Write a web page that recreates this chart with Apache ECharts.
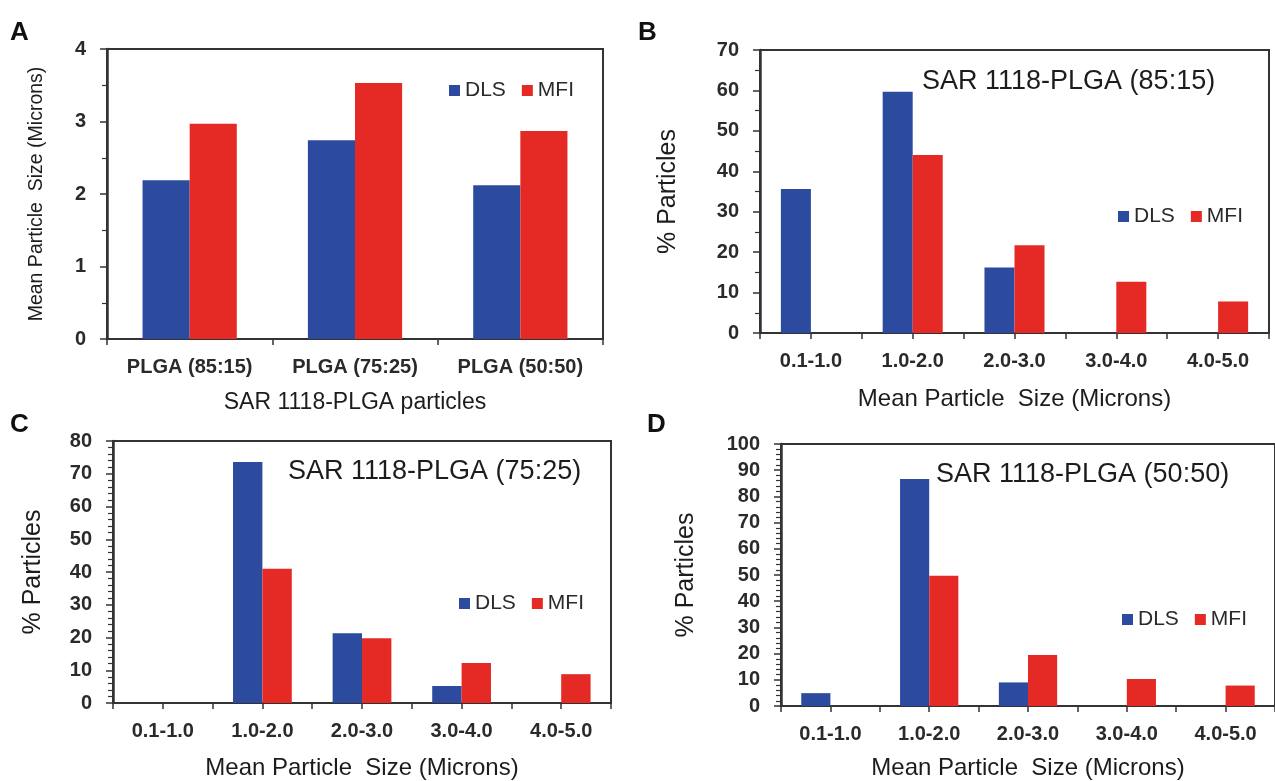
<!DOCTYPE html>
<html>
<head>
<meta charset="utf-8">
<script src="https://cdn.jsdelivr.net/npm/echarts@6/dist/echarts.min.js"></script>
<style>
  html, body { margin: 0; padding: 0; background: #fff; }
  #chart { width: 1275px; height: 781px; }
</style>
</head>
<body>
<div id="chart"></div>
<script>
// datos
const groupsA = ['PLGA (85:15)', 'PLGA (75:25)', 'PLGA (50:50)'];
const dlsA = [2.19, 2.74, 2.12];
const mfiA = [2.97, 3.53, 2.87];

const sizeBins = ['0.1-1.0', '1.0-2.0', '2.0-3.0', '3.0-4.0', '4.0-5.0'];
const dlsB = [35.6, 59.7, 16.2, 0, 0];
const mfiB = [0, 44.0, 21.7, 12.7, 7.8];
const dlsC = [0, 73.6, 21.3, 5.2, 0];
const mfiC = [0, 41.0, 19.8, 12.2, 8.8];
const dlsD = [4.9, 86.6, 9.0, 0, 0];
const mfiD = [0, 49.7, 19.5, 10.3, 7.8];

const panelTitles = ['SAR 1118-PLGA (85:15)', 'SAR 1118-PLGA (75:25)', 'SAR 1118-PLGA (50:50)'];
const panelLetters = ['A', 'B', 'C', 'D'];

const FONT = '"Liberation Sans", Arial, sans-serif';
const TXT = '#1c1c1c';
const AXC = '#333';
const BLUE = '#2c4b9f';
const RED = '#e52a26';

var chart = echarts.init(document.getElementById('chart'));

// rejillas de cada panel
var grids = [
  { left: 107, top: 49, width: 496, height: 290 },
  { left: 760, top: 50, width: 509, height: 283 },
  { left: 113, top: 441, width: 498, height: 263 },
  { left: 781, top: 444, width: 505, height: 267 }
];
grids.forEach(g => { g.show = true; g.borderColor = AXC; g.borderWidth = 2; g.backgroundColor = 'transparent'; });

function yAx(i, max, minorSplit, name, gap, nameSize) {
  return {
    type: 'value', gridIndex: i, min: 0, max: max, interval: max <= 4 ? 1 : 10,
    name: name, nameLocation: 'middle', nameGap: gap,
    nameTextStyle: { fontFamily: FONT, fontSize: nameSize, color: TXT },
    axisLine: { show: true, lineStyle: { color: AXC, width: 2.5 } },
    axisTick: { show: true, length: 7, lineStyle: { color: AXC, width: 1.5 } },
    minorTick: { show: true, splitNumber: minorSplit, length: 5, lineStyle: { color: AXC, width: 1.2 } },
    splitLine: { show: false },
    axisLabel: { fontFamily: FONT, fontSize: 20, fontWeight: 'bold', color: '#2a2a2a', margin: 21 }
  };
}

function xAx(i, data, name, gap, nameSize) {
  return {
    type: 'category', gridIndex: i, data: data,
    name: name, nameLocation: 'middle', nameGap: gap,
    nameTextStyle: { fontFamily: FONT, fontSize: nameSize, color: TXT },
    axisLine: { show: true, lineStyle: { color: AXC, width: 2 } },
    axisTick: { show: true, length: 6, lineStyle: { color: AXC, width: 1.5 } },
    axisLabel: { fontFamily: FONT, fontSize: 20, fontWeight: 'bold', color: '#2a2a2a', margin: 18, interval: 0 }
  };
}

// ejes extra solo para las marcas del centro de cada categoria
function xTicks(i, data) {
  return {
    type: 'category', gridIndex: i, data: data, position: 'bottom',
    axisLine: { show: false },
    axisTick: { show: true, alignWithLabel: true, length: 6, lineStyle: { color: AXC, width: 1.5 } },
    axisLabel: { show: false }, name: ''
  };
}

var xAxes = [
  xAx(0, groupsA, 'SAR 1118-PLGA particles', 52, 23),
  xAx(1, sizeBins, 'Mean Particle  Size (Microns)', 54, 24),
  xAx(2, sizeBins, 'Mean Particle  Size (Microns)', 53, 24),
  xAx(3, sizeBins, 'Mean Particle  Size (Microns)', 50, 24),
  xTicks(1, sizeBins), xTicks(2, sizeBins), xTicks(3, sizeBins)
];
var yAxes = [
  yAx(0, 4, 2, 'Mean Particle  Size (Microns)', 60, 19.5),
  yAx(1, 70, 2, '% Particles', 79, 25),
  yAx(2, 80, 5, '% Particles', 67, 25),
  yAx(3, 100, 5, '% Particles', 82, 25)
];

function bars(name, data, i, color) {
  return {
    name: name, type: 'bar', xAxisIndex: i, yAxisIndex: i, data: data,
    barGap: '0%', barCategoryGap: i == 0 ? '43%' : '41%',
    itemStyle: { color: color }, animation: false
  };
}

var legendPos = [
  { left: 444, top: 75 },
  { left: 1113, top: 201 },
  { left: 454, top: 588 },
  { left: 1117, top: 604 }
];
var legends = legendPos.map(p => ({
  left: p.left, top: p.top, orient: 'horizontal', icon: 'rect',
  itemWidth: 11, itemHeight: 11, itemGap: 16,
  textStyle: { fontFamily: FONT, fontSize: 21, color: '#2a2a2a', padding: [0, 0, 0, 0] },
  data: ['DLS', 'MFI'], selectedMode: false
}));

var titles = [
  { text: panelTitles[0], left: 922, top: 68 },
  { text: panelTitles[1], left: 288, top: 458 },
  { text: panelTitles[2], left: 936, top: 461 }
].map(t => ({ text: t.text, left: t.left, top: t.top, padding: 0,
  textStyle: { fontFamily: FONT, fontSize: 27, fontWeight: 'normal', color: TXT } }));

var letterPos = [[10, 20], [638, 20], [10, 412], [647, 412]];
letterPos.forEach((p, k) => {
  titles.push({ text: panelLetters[k], left: p[0], top: p[1], padding: 0,
    textStyle: { fontFamily: FONT, fontSize: 26, fontWeight: 'bold', color: '#111' } });
});

var option = {
  animation: false,
  backgroundColor: '#fff',
  title: titles,
  legend: legends,
  grid: grids,
  xAxis: xAxes,
  yAxis: yAxes,
  series: [
    bars('DLS', dlsA, 0, BLUE), bars('MFI', mfiA, 0, RED),
    bars('DLS', dlsB, 1, BLUE), bars('MFI', mfiB, 1, RED),
    bars('DLS', dlsC, 2, BLUE), bars('MFI', mfiC, 2, RED),
    bars('DLS', dlsD, 3, BLUE), bars('MFI', mfiD, 3, RED)
  ]
};
chart.setOption(option);
</script>
</body>
</html>
